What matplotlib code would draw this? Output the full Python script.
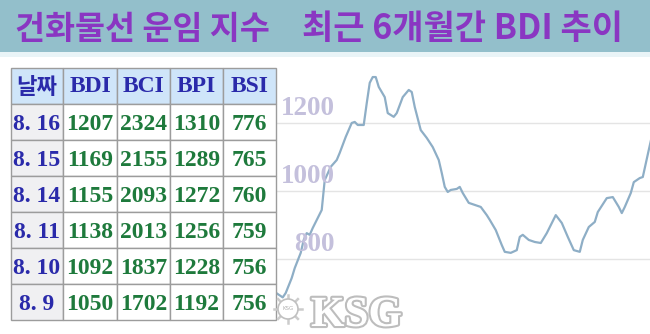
import matplotlib.pyplot as plt
import matplotlib.patheffects as pe
import matplotlib.transforms as mtransforms
from matplotlib.patches import Rectangle, Circle
import numpy as np

# Data --------------------------
dates = ['8. 16', '8. 15', '8. 14', '8. 11', '8. 10', '8. 9']
bdi = [1207, 1169, 1155, 1138, 1092, 1050]
bci = [2324, 2155, 2093, 2013, 1837, 1702]
bpi = [1310, 1289, 1272, 1256, 1228, 1192]
bsi = [776, 765, 760, 759, 756, 756]
headers = ['날짜', 'BDI', 'BCI', 'BPI', 'BSI']

# BDI trend over the last ~6 months (trading day index, value)
trend_days = [0, 2, 3, 5, 6, 8, 9, 10, 11, 12, 15, 16, 18, 20, 21, 23, 25, 26, 27, 29,
              30, 31, 32, 33, 34, 36, 37, 39, 40, 42, 44, 45, 46, 48, 50, 52, 54, 55, 56, 57,
              58, 60, 61, 62, 64, 66, 68, 70, 71, 73, 75, 76, 78, 80, 81, 82, 84, 86, 88, 90,
              93, 95, 97, 99, 101, 102, 104, 106, 107, 110, 112, 114, 115, 116, 118, 119, 121, 122, 124, 125]
trend_bdi = [699, 687, 700, 744, 773, 818, 856, 876, 871, 891, 944, 1032, 1071, 1091, 1112, 1159, 1200, 1203, 1194, 1194,
             1258, 1318, 1335, 1335, 1306, 1276, 1229, 1218, 1229, 1276, 1297, 1291, 1247, 1179, 1156, 1129, 1091, 1053, 1012, 997,
             1003, 1006, 1012, 994, 965, 959, 953, 929, 915, 885, 841, 821, 818, 826, 865, 871, 856, 850, 847, 876,
             929, 906, 865, 826, 821, 856, 894, 909, 938, 979, 982, 953, 935, 953, 994, 1026, 1038, 1041, 1121, 1160]
grid_values = [800, 1000, 1200]

W, H = 650, 334
fig = plt.figure(figsize=(W / 100, H / 100), dpi=100)
fig.patch.set_facecolor('white')

# Line chart -----
ax = fig.add_axes([272 / W, 0, 378 / W, (H - 58) / H])
ax.plot(trend_days, trend_bdi, color='#8eaec6', lw=1.6, solid_joinstyle='round', zorder=2)
ax.set_xlim(-1.57, 124.4)
ax.set_ylim(579.4, 1391)
ax.axis('off')
lab_trans = mtransforms.offset_copy(ax.get_yaxis_transform(), fig=fig, x=0, y=8, units='dots')
for v in grid_values:
    ax.axhline(v, xmin=0.008, color='#e4e4e4', lw=1, zorder=1)
    ax.text(63 / 378, v, str(v), transform=lab_trans, ha='right', va='baseline',
            fontsize=19.5, fontweight='bold', family='Liberation Serif', color='#c4c0dc', zorder=3)

# Overlay: title bar, table, watermark -----
ov = fig.add_axes([0, 0, 1, 1])
ov.set_xlim(0, W)
ov.set_ylim(H, 0)
ov.axis('off')
ov.set_zorder(5)
ov.patch.set_alpha(0)

ov.add_patch(Rectangle((0, 0), W, 52, color='#93bfcb', lw=0))
ov.add_patch(Rectangle((0, 52), W, 5, color='#e9f4f7', lw=0))
title_font = ['Noto Sans CJK KR', 'DejaVu Sans']
ov.text(15, 29, '건화물선 운임 지수', ha='left', va='center', fontsize=23.5,
        fontweight='black', family=title_font, color='#8a36c2')
ov.text(623, 29, '최근 6개월간 BDI 추이', ha='right', va='center', fontsize=24.5,
        fontweight='black', family=title_font, color='#8a36c2')

col_edges = [10.7, 63, 117, 170, 223, 276]
row_edges = [68, 104, 140, 176, 212, 248, 284, 320]
columns = [dates, bdi, bci, bpi, bsi]

for r in range(len(row_edges) - 1):
    for c in range(len(col_edges) - 1):
        x0, x1 = col_edges[c], col_edges[c + 1]
        y0, y1 = row_edges[r], row_edges[r + 1]
        if r == 0:
            face = '#cfe5f9'
        elif c == 0:
            face = '#f0f0f2'
        else:
            face = 'white'
        ov.add_patch(Rectangle((x0, y0), x1 - x0, y1 - y0, facecolor=face,
                               edgecolor='#9c9c9c', lw=1))
        cx, cy = (x0 + x1) / 2, (y0 + y1) / 2
        if r == 0:
            txt = headers[c]
            fam = ['Noto Sans CJK KR', 'DejaVu Sans'] if c == 0 else 'Liberation Serif'
            ov.text(cx, cy + 1, txt, ha='center', va='center', fontsize=17 if c else 16,
                    fontweight='bold', family=fam, color='#2a2aaa')
        else:
            txt = str(columns[c][r - 1])
            color = '#2a2aaa' if c == 0 else '#1e7a3c'
            ov.text(cx, cy + 2, txt, ha='center', va='center', fontsize=17,
                    fontweight='bold', family='Liberation Serif', color=color)

# KSG watermark
ov.add_patch(Circle((288, 309), 10, facecolor='white', edgecolor='#c0c0c0', lw=1.2, zorder=6))
for a in np.linspace(0, 2 * np.pi, 8, endpoint=False):
    ov.plot([288 + 10 * np.cos(a), 288 + 14 * np.cos(a)],
            [309 + 10 * np.sin(a), 309 + 14 * np.sin(a)], color='#cccccc', lw=1.8, zorder=5)
ov.text(288, 309, 'KSG', ha='center', va='center', fontsize=4, color='#b0b0b0', zorder=7)
ov.text(311, 326, 'KSG', ha='left', va='baseline', fontsize=31, fontweight='bold',
        family='Liberation Serif', color='white', zorder=7,
        path_effects=[pe.withStroke(linewidth=3, foreground='#bdbdbd')])

fig.savefig('out.png', dpi=100, facecolor='white')
